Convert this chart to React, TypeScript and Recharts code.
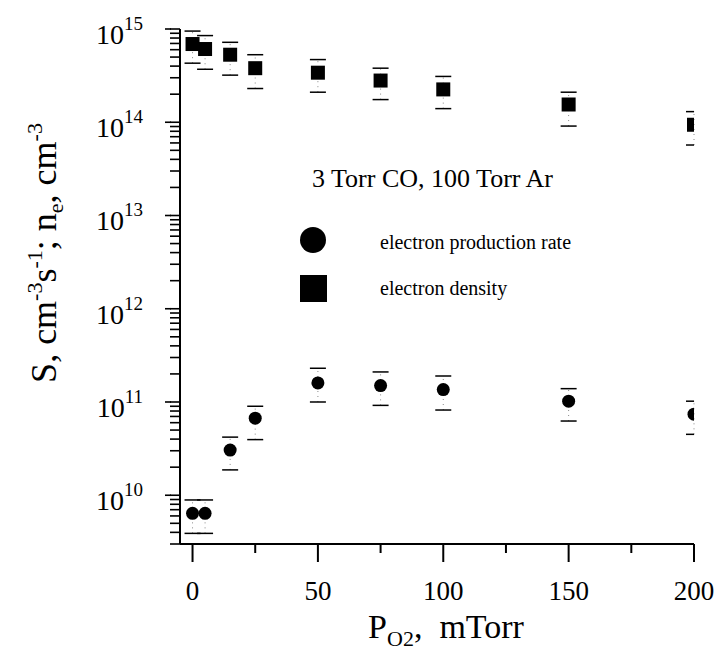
import { ScatterChart, Scatter, XAxis, YAxis, ErrorBar } from 'recharts';

// O2 partial pressure, mTorr
const pressure = [0, 5, 15, 25, 50, 75, 100, 150, 200];

// electron density n_e (squares) with error bar ends
const densityVal = [6.9e14, 6.1e14, 5.3e14, 3.8e14, 3.4e14, 2.8e14, 2.25e14, 1.55e14, 9.4e13];
const densityHigh = [9.5e14, 8.5e14, 7.2e14, 5.3e14, 4.7e14, 3.8e14, 3.1e14, 2.1e14, 1.3e14];
const densityLow = [4.3e14, 3.7e14, 3.2e14, 2.3e14, 2.1e14, 1.75e14, 1.4e14, 9.1e13, 5.7e13];

// electron production rate S (circles) with error bar ends
const rateVal = [6.4e9, 6.4e9, 3.05e10, 6.7e10, 1.6e11, 1.5e11, 1.36e11, 1.02e11, 7.4e10];
const rateHigh = [8.9e9, 8.9e9, 4.2e10, 9.0e10, 2.3e11, 2.1e11, 1.9e11, 1.39e11, 1.02e11];
const rateLow = [3.9e9, 3.9e9, 1.87e10, 3.95e10, 1.0e11, 9.2e10, 8.2e10, 6.25e10, 4.5e10];

const xTicks = [0, 25, 50, 75, 100, 125, 150, 175, 200];
const xLabelled = [0, 50, 100, 150, 200];
const decades = [9, 10, 11, 12, 13, 14, 15];
const mantissas = [1, 2, 3, 4, 5, 6, 7, 8, 9];
const yDomain = [3e9, 1e15];

const FONT = '"Liberation Serif", "Times New Roman", serif';

const yTicks = decades
  .flatMap(e => mantissas.map(m => m * Math.pow(10, e)))
  .filter(v => v >= yDomain[0] * 0.999 && v <= yDomain[1] * 1.001);

const makeRows = (vals: number[], hi: number[], lo: number[]) =>
  pressure.map((x, i) => ({ x, y: vals[i], err: [vals[i] - lo[i], hi[i] - vals[i]] }));
const makeCaps = (ends: number[]) => pressure.map((x, i) => ({ x, y: ends[i] }));

const densityRows = makeRows(densityVal, densityHigh, densityLow);
const rateRows = makeRows(rateVal, rateHigh, rateLow);
const capRows = [...makeCaps(densityHigh), ...makeCaps(densityLow), ...makeCaps(rateHigh), ...makeCaps(rateLow)];

// built-in tick line gives 10px for every tick; decades get 5px more here
function YTick(props: any) {
  const { x, y, payload } = props;
  const v = Number(payload.value);
  const exp = Math.floor(Math.log10(v) + 1e-9);
  const major = Math.abs(v / Math.pow(10, exp) - 1) < 1e-6;
  if (!major) return <g />;
  return (
    <g>
      <line x1={x + 1} x2={x - 5} y1={y} y2={y} stroke="#000" strokeWidth={1.6} />
      <text x={x - 27} y={y + 15} textAnchor="end" fontFamily={FONT} fontSize={28} fill="#000">
        10<tspan fontSize={19} dy={-14}>{exp}</tspan>
      </text>
    </g>
  );
}

function XTick(props: any) {
  const { x, y, payload } = props;
  const major = xLabelled.includes(payload.value);
  return (
    <g>
      <path d={`M${x},${y}V${y + (major ? 18 : 9)}`} stroke="#000" strokeWidth={2} fill="none" />
      {major && (
        <text x={x} y={y + 56} textAnchor="middle" fontFamily={FONT} fontSize={27} fill="#000">
          {payload.value}
        </text>
      )}
    </g>
  );
}

const Dot = (p: any) => <circle cx={p.cx} cy={p.cy} r={6.5} fill="#000" />;
const Sq = (p: any) => <rect x={p.cx - 7} y={p.cy - 7} width={14} height={14} fill="#000" />;
const Cap = (p: any) => <line x1={p.cx - 8} x2={p.cx + 8} y1={p.cy} y2={p.cy} stroke="#000" strokeWidth={1.5} />;

export default function App() {
  return (
    <div style={{ position: 'absolute', left: 0, top: 0, width: 717, height: 652, background: '#fff' }}>
      <ScatterChart width={717} height={652} margin={{ top: 29, right: 23, bottom: 0, left: 0 }}>
        <XAxis
          type="number"
          dataKey="x"
          domain={[-5, 200]}
          ticks={xTicks}
          allowDataOverflow
          height={108}
          tickSize={0}
          tickMargin={0}
          tick={<XTick />}
          axisLine={{ stroke: '#000', strokeWidth: 2 }}
          interval={0}
        />
        <YAxis
          type="number"
          dataKey="y"
          scale="log"
          domain={yDomain}
          ticks={yTicks}
          allowDataOverflow
          width={180}
          tickSize={10}
          tickMargin={0}
          tickLine={{ stroke: '#000', strokeWidth: 1.6 }}
          tick={<YTick />}
          axisLine={{ stroke: '#000', strokeWidth: 2 }}
          interval={0}
        />
        <Scatter data={capRows} shape={<Cap />} isAnimationActive={false} />
        <Scatter data={rateRows} shape={<Dot />} isAnimationActive={false}>
          <ErrorBar dataKey="err" direction="y" width={0} stroke="#888" strokeWidth={1} strokeDasharray="1 4" />
        </Scatter>
        <Scatter data={densityRows} shape={<Sq />} isAnimationActive={false}>
          <ErrorBar dataKey="err" direction="y" width={0} stroke="#888" strokeWidth={1} strokeDasharray="1 4" />
        </Scatter>
      </ScatterChart>
      <svg width={717} height={652} style={{ position: 'absolute', left: 0, top: 0, pointerEvents: 'none' }}>
        <g fontFamily={FONT} fill="#000">
          <text x={312} y={187} fontSize={26}>3 Torr CO, 100 Torr Ar</text>
          <circle cx={313} cy={240} r={13} />
          <rect x={300} y={275} width={27} height={27} />
          <text x={380} y={249} fontSize={20}>electron production rate</text>
          <text x={380} y={295} fontSize={20}>electron density</text>
          <text x={446} y={638} textAnchor="middle" fontSize={34}>
            P<tspan fontSize={22} dy={8}>O2</tspan><tspan fontSize={34} dy={-8}>,{'\u00a0\u00a0'}mTorr</tspan>
          </text>
          <text transform="translate(56,253) rotate(-90)" textAnchor="middle" fontSize={36}>
            S, cm<tspan fontSize={22} dy={-14}>-3</tspan><tspan dy={14}>s</tspan>
            <tspan fontSize={22} dy={-14}>-1</tspan><tspan dy={14}>; n</tspan>
            <tspan fontSize={22} dy={7}>e</tspan><tspan dy={-7}>, cm</tspan>
            <tspan fontSize={22} dy={-14}>-3</tspan>
          </text>
        </g>
      </svg>
    </div>
  );
}
